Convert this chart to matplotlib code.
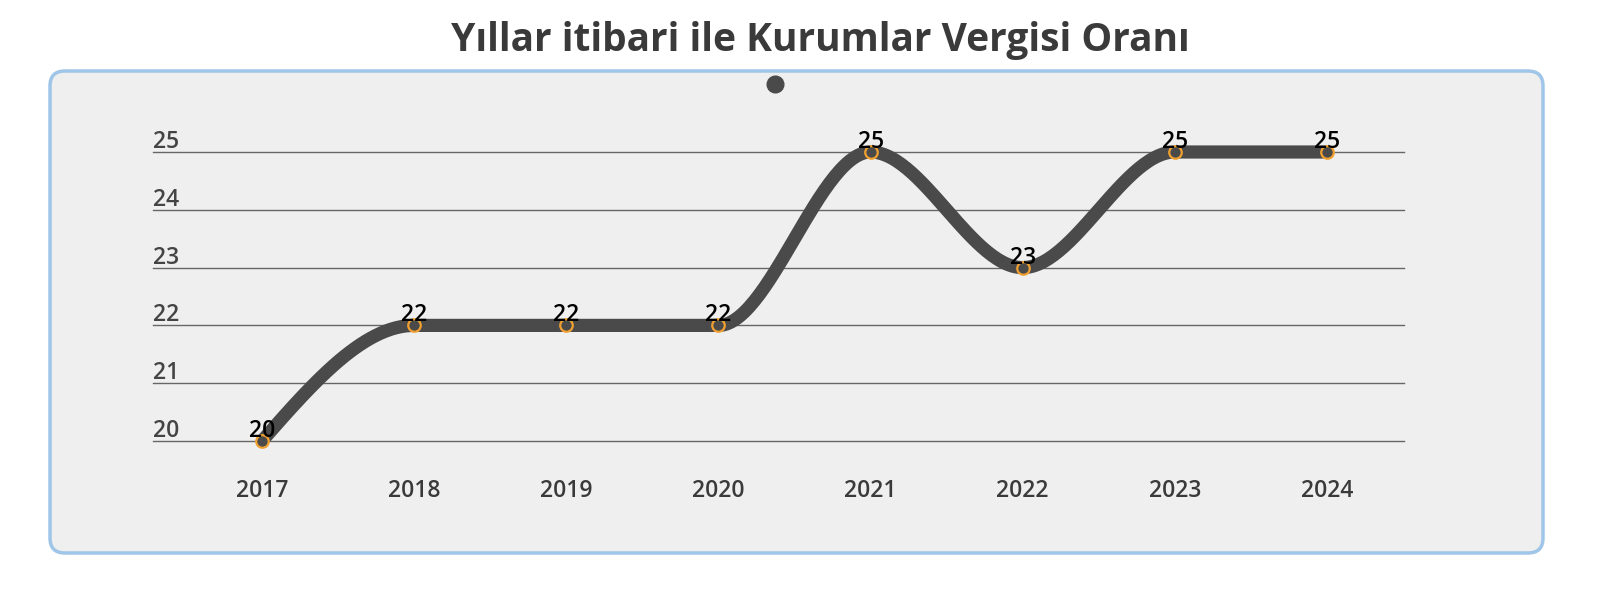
import numpy as np
import matplotlib
matplotlib.use("Agg")
from matplotlib import pyplot as plt
from matplotlib.patches import FancyBboxPatch
from matplotlib.lines import Line2D

plt.rcParams['font.family'] = ['Open Sans', 'DejaVu Sans']

title = "Yıllar itibari ile Kurumlar Vergisi Oranı"
years = [2017, 2018, 2019, 2020, 2021, 2022, 2023, 2024]
rates = [20, 22, 22, 22, 25, 23, 25, 25]
y_ticks = [20, 21, 22, 23, 24, 25]

line_color = "#4a4a4a"
marker_edge = "#f0a030"


def monotone_curve(x, y, n=60):
    # monotone cubic like d3 curveMonotoneX
    x = np.asarray(x, float)
    y = np.asarray(y, float)
    h = np.diff(x)
    s = np.diff(y) / h
    t = np.zeros(len(x))
    for i in range(1, len(x) - 1):
        p = (s[i - 1] * h[i] + s[i] * h[i - 1]) / (h[i - 1] + h[i])
        t[i] = (np.sign(s[i - 1]) + np.sign(s[i])) * min(abs(s[i - 1]), abs(s[i]), 0.5 * abs(p))
    t[0] = (3 * s[0] - t[1]) / 2
    t[-1] = (3 * s[-1] - t[-2]) / 2
    xs, ys = [], []
    for i in range(len(x) - 1):
        u = np.linspace(0, 1, n)
        x0, x1 = x[i], x[i + 1]
        dx = (x1 - x0) / 3
        px = [x0, x0 + dx, x1 - dx, x1]
        py = [y[i], y[i] + dx * t[i], y[i + 1] - dx * t[i + 1], y[i + 1]]
        b = [(1 - u) ** 3, 3 * u * (1 - u) ** 2, 3 * u ** 2 * (1 - u), u ** 3]
        xs.append(sum(bb * pp for bb, pp in zip(b, px)))
        ys.append(sum(bb * pp for bb, pp in zip(b, py)))
    return np.concatenate(xs), np.concatenate(ys)


W, H = 1600, 604
fig = plt.figure(figsize=(W / 100, H / 100), dpi=100)

# panel box (inches)
box = FancyBboxPatch((0.50, (H - 553) / 100), (1543 - 50) / 100, (553 - 71) / 100,
                     boxstyle="round,pad=0,rounding_size=0.15",
                     transform=fig.dpi_scale_trans, facecolor="#efefef",
                     edgecolor="#9fc5e8", linewidth=2.5, zorder=-5)
fig.patches.append(box)

fig.text(820 / W, 1 - 40 / H, title, ha="center", va="center",
         fontsize=28, fontweight="bold", color="#3a3a3a")

# legend dot
fig.add_artist(Line2D([775 / W], [1 - 84 / H], transform=fig.transFigure,
                      marker="o", markersize=12, color=line_color, linestyle="none"))

left, right = 153, 1404
top, bottom = 152, 441
ax = fig.add_axes([left / W, 1 - bottom / H, (right - left) / W, (bottom - top) / H])
ax.patch.set_alpha(0)
step = (1327 - 262) / 7
ax.set_xlim(2017 - (262 - left) / step, 2024 + (right - 1327) / step)
ax.set_ylim(20, 25)
for sp in ax.spines.values():
    sp.set_visible(False)
ax.set_xticks([])
ax.set_yticks([])

xmin, xmax = ax.get_xlim()
upp = 5 / (bottom - top)  # data units per pixel
for v in y_ticks:
    ax.plot([xmin, xmax], [v, v], color="#666666", linewidth=1.0, clip_on=False, zorder=1)
    ax.text(xmin, v + 4 * upp, str(v), ha="left", va="baseline", fontsize=16.5,
            fontweight="semibold", color="#444444", clip_on=False)

cx, cy = monotone_curve(years, rates)
ax.plot(cx, cy, color=line_color, linewidth=9.5, solid_capstyle="butt",
        clip_on=False, zorder=3)
ax.plot(years, rates, linestyle="none", marker="o", markersize=9,
        markerfacecolor=line_color, markeredgecolor=marker_edge,
        markeredgewidth=1.6, clip_on=False, zorder=4)

for xv, yv in zip(years, rates):
    ax.text(xv, yv + 4 * upp, str(yv), ha="center", va="baseline", fontsize=16.5,
            fontweight="semibold", color="black", clip_on=False, zorder=5)
    ax.text(xv, 20 - 50 * upp, str(xv), ha="center", va="center", fontsize=16.5,
            fontweight="semibold", color="#3a3a3a", clip_on=False)

fig.savefig("out.png", dpi=100)
